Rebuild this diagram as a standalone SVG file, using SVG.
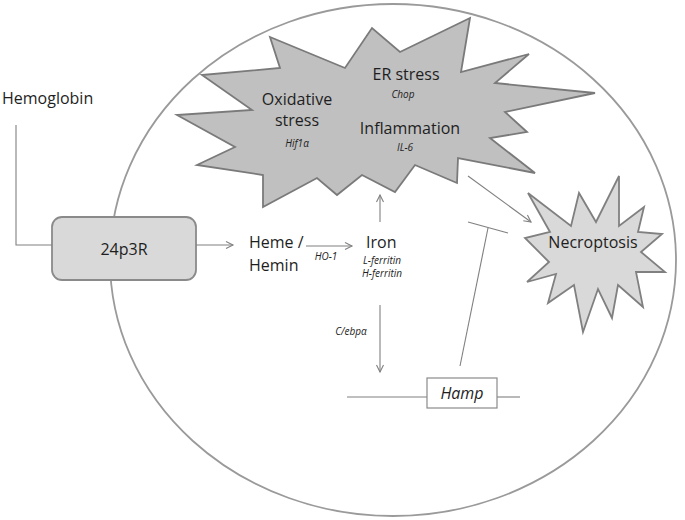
<svg xmlns="http://www.w3.org/2000/svg" width="685" height="520" viewBox="0 0 685 520">
<style>
text{font-family:"Open Sans","Liberation Sans",sans-serif;fill:#1e1e1e;}
.t{font-size:16px;}
.s{font-size:10px;font-style:italic;}
.ln{stroke:#808080;stroke-width:1.1;fill:none;}
</style>
<defs>
<marker id="ah" markerWidth="10" markerHeight="10" refX="8" refY="4" orient="auto" markerUnits="userSpaceOnUse">
<path d="M1,0.5 L8,4 L1,7.5" fill="none" stroke="#808080" stroke-width="1.1"/>
</marker>
</defs>
<rect width="685" height="520" fill="#ffffff"/>
<g id="cell">
<ellipse cx="393" cy="260" rx="283" ry="256" fill="none" stroke="#9a9a9a" stroke-width="1.8"/>
</g>
<g id="stress">
<polygon points="270,37 345,68 372,28 400,52 470,18 461,72 529,54 495,83 595,93 505,112 527,132 490,138 535,173 458,158 457,183 415,165 395,192 362,175 337,195 317,178 263,207 263,175 197,165 235,147 177,115 252,110 202,75 280,68" fill="#c0c0c0" stroke="#7a7a7a" stroke-width="1.8" stroke-linejoin="miter"/>
<text class="t" x="297" y="105" text-anchor="middle">Oxidative</text>
<text class="t" x="297" y="126" text-anchor="middle">stress</text>
<text class="s" x="297" y="147" text-anchor="middle">Hif1α</text>
<text class="t" x="406" y="80" text-anchor="middle">ER stress</text>
<text class="s" x="403" y="98" text-anchor="middle">Chop</text>
<text class="t" x="410" y="134" text-anchor="middle">Inflammation</text>
<text class="s" x="405" y="151" text-anchor="middle">IL-6</text>
</g>
<g id="necroptosis">
<polygon points="528,193 571,226 579,193 596,222 619,176 619,226 644,207 638,232 662,234 641,252 665,272 636,272 643,307 618,285 612,318 598,289 583,332 574,285 548,303 556,274 527,282 549,262 525,238 550,232" fill="#d9d9d9" stroke="#808080" stroke-width="1.8"/>
<text class="t" x="593" y="248" text-anchor="middle">Necroptosis</text>
</g>
<g id="receptor">
<rect x="52" y="217" width="144" height="63" rx="10" ry="10" fill="#d9d9d9" stroke="#8a8a8a" stroke-width="1.8"/>
<text class="t" x="124" y="255" text-anchor="middle">24p3R</text>
</g>
<g id="hemoglobin">
<text class="t" x="2" y="104">Hemoglobin</text>
</g>
<g id="heme">
<text class="t" x="249" y="248">Heme /</text>
<text class="t" x="249" y="271">Hemin</text>
</g>
<g id="iron">
<text class="t" x="366" y="248">Iron</text>
<text class="s" x="382" y="264" text-anchor="middle">L-ferritin</text>
<text class="s" x="382" y="277" text-anchor="middle">H-ferritin</text>
</g>
<g id="hamp">
<line class="ln" x1="347" y1="397" x2="427" y2="397" stroke-width="1.6"/>
<line class="ln" x1="497" y1="397" x2="520" y2="397" stroke-width="1.6"/>
<rect x="427" y="378" width="70" height="30" fill="#ffffff" stroke="#8a8a8a" stroke-width="1.2"/>
<text x="462" y="399" text-anchor="middle" style="font-size:16px;font-style:italic;">Hamp</text>
</g>
<g id="connectors">
<polyline class="ln" points="16,125 16,245 52,245"/>
<line class="ln" x1="196" y1="245" x2="233" y2="245" marker-end="url(#ah)"/>
<line class="ln" x1="306" y1="246" x2="352" y2="246" marker-end="url(#ah)"/>
<text class="s" x="326" y="260" text-anchor="middle">HO-1</text>
<line class="ln" x1="380" y1="222" x2="380" y2="195" marker-end="url(#ah)"/>
<line class="ln" x1="380" y1="305" x2="380" y2="372" marker-end="url(#ah)"/>
<text class="s" x="351" y="335" text-anchor="middle">C/ebpα</text>
<line class="ln" x1="468" y1="176" x2="531" y2="222" marker-end="url(#ah)"/>
<line class="ln" x1="460" y1="366" x2="488" y2="228"/>
<line class="ln" x1="468" y1="222" x2="508" y2="233"/>
</g>
</svg>
